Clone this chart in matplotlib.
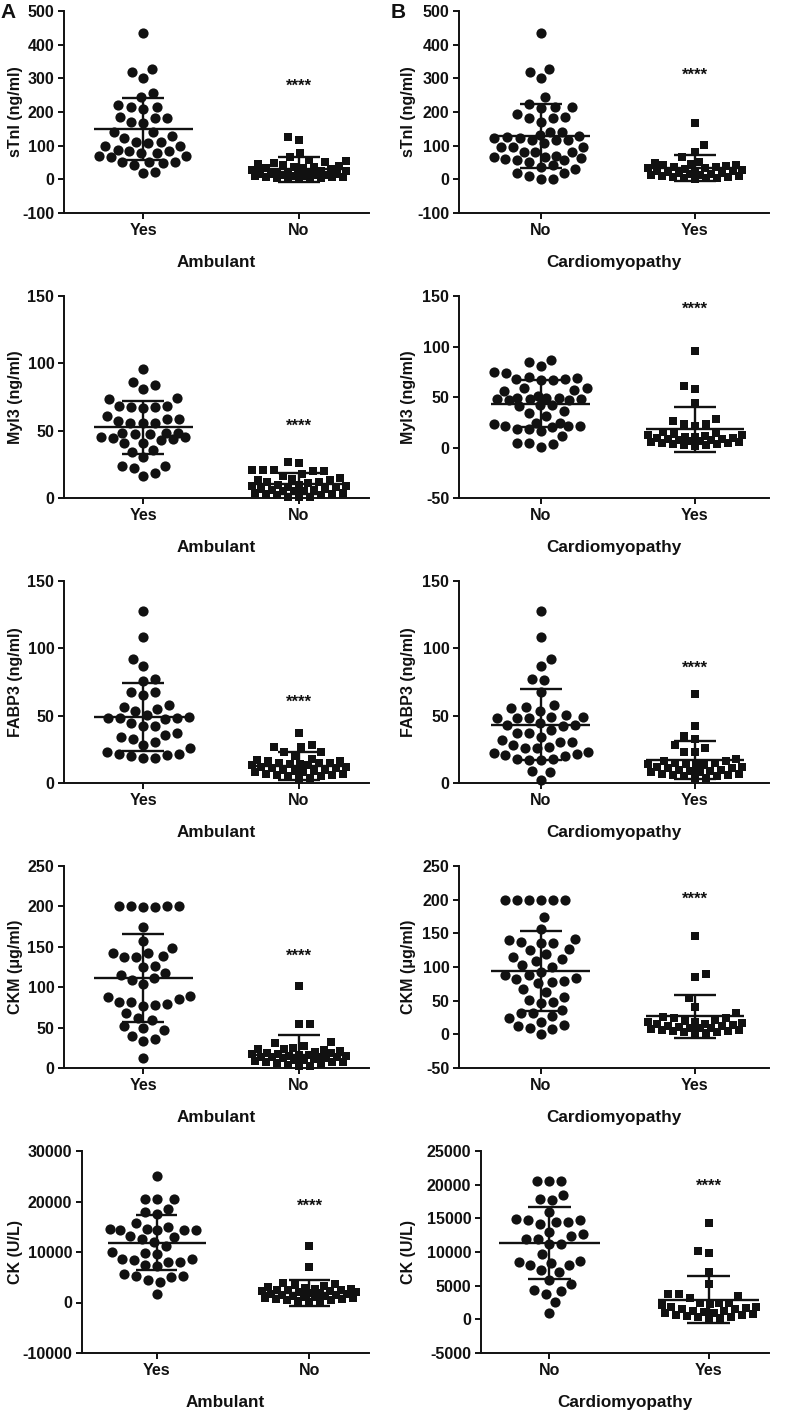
import numpy as np
import matplotlib
matplotlib.use("Agg")
import matplotlib.pyplot as plt

plt.rcParams.update({
    "font.family": ["Liberation Sans", "DejaVu Sans"],
    "font.weight": "bold",
    "axes.labelweight": "bold",
    "axes.unicode_minus": False,
})

# ---------------- data ----------------
groups_amb = ["Yes", "No"]
groups_card = ["No", "Yes"]

# sTnI (ng/ml)
stni_amb_yes = [436, 328, 319, 302, 255, 245, 216, 221, 210, 216, 186, 171, 181, 181, 168, 142, 140,
                112, 107, 99, 100, 112, 122, 129, 87, 85, 79, 69, 69, 67, 79, 85, 52, 43, 52, 50, 48, 20, 21]
stni_amb_no = [125, 117, 79, 67, 57, 55, 50, 48, 45, 42, 40, 38, 36, 35, 33, 30, 28, 26, 25, 23, 22, 20,
               18, 17, 16, 15, 14, 13, 12, 11, 10, 9, 8, 7, 6, 5, 5, 4, 3, 2]
stni_card_no = [436, 328, 319, 302, 245, 224, 214, 211, 216, 193, 181, 181, 186, 171, 142, 142, 132, 127,
                129, 117, 117, 97, 122, 122, 97, 97, 107, 117, 82, 82, 82, 70, 67, 57, 52, 59, 57, 62, 67,
                38, 43, 30, 18, 10, 0, 1, 18]
stni_card_yes = [168, 101, 82, 67, 50, 48, 45, 44, 42, 40, 38, 37, 35, 33, 30, 28, 26, 25, 24, 22, 20, 18,
                 17, 15, 14, 12, 10, 9, 8, 6, 5, 4, 3, 2]

# Myl3 (ng/ml)
myl3_amb_yes = [96, 84, 86, 81, 74, 73.5, 68.6, 67.8, 66.6, 67.8, 68.3, 59, 57, 56, 55.5, 56, 58.5, 61,
                48.6, 47.6, 45.6, 44.4, 43, 40.7, 40.7, 43.7, 45.6, 47.6, 48.6, 48.6, 33.8, 35.8, 30.8,
                24, 22, 24, 18.5, 16]
myl3_amb_no = [27, 26, 21, 21, 21, 20, 20, 18, 16, 15, 14, 13, 13, 12, 12, 11, 10, 10, 9, 9, 8, 8, 7, 7,
               6, 6, 5, 5, 5, 4, 4, 3, 3, 2, 2, 1, 1, 0.5]
myl3_card_no = [86.7, 85, 80.8, 75, 74, 68.6, 70, 68, 67, 67, 56, 58.8, 58.8, 57, 49, 46.6, 48, 48, 49, 48,
                46.6, 49, 50.6, 40.7, 42, 42, 35.8, 31.5, 34, 24.3, 23.6, 21, 20.4, 18.4, 16, 18.4, 21,
                21.7, 24.3, 11, 4.6, 0.7, 3, 4.6, 68]
myl3_card_yes = [96, 61, 58, 44, 28, 26, 23, 23, 21, 15, 14, 13, 12, 12, 11, 10, 10, 9, 9, 8, 8, 7, 7, 6,
                 6, 5, 5, 4, 4, 3, 3, 2, 2, 1]

# FABP3 (ng/ml)
fabp3_amb_yes = [127.8, 108.6, 91.8, 86.8, 77, 76, 67.8, 65.4, 67.4, 56.7, 58, 53.8, 55, 49.3, 44.4, 48, 48,
                 47.4, 48, 50.6, 42, 42, 34.5, 30.8, 37, 32.8, 35.8, 28.4, 25.9, 22.7, 21.7, 19.7, 18.5,
                 18.5, 20.5, 21.7]
fabp3_amb_no = [37, 28, 27, 27, 23, 23, 20, 18, 17, 16, 16, 15, 15, 15, 14, 14, 13, 13, 12, 12, 11, 11, 10,
                10, 9, 9, 8, 8, 7, 7, 6, 6, 5, 5, 4, 3]
fabp3_card_no = [127.8, 108.6, 91.8, 86.8, 76.5, 77.2, 67.8, 58, 56.7, 55.5, 53.8, 50.6, 49.3, 48, 48, 49.3,
                 44.4, 42, 42.7, 43, 32, 30.8, 37, 37, 39.5, 30.8, 34.5, 27, 25.9, 25.9, 28.4, 22.2, 20.2,
                 17.8, 17.3, 17.3, 17.8, 21, 21.5, 22.7, 8.6, 8.1, 2, 48]
fabp3_card_yes = [66, 42, 35, 33, 28, 26, 23, 23, 18, 16, 16, 15, 15, 14, 14, 13, 13, 12, 12, 11, 11, 10,
                  10, 9, 9, 8, 8, 7, 7, 6, 6, 5, 5, 4, 4]

# CKM (ug/ml)
ckm_amb_yes = [200, 200, 199, 199, 200, 200, 175, 157.5, 148, 142, 142, 137, 137, 138, 126.6, 124.6, 115,
               109, 111, 118, 104, 87.6, 89, 82, 85, 78, 81.4, 79.4, 77.3, 67.8, 62.5, 59.6, 46.5, 49.3,
               51.4, 36.2, 32.9, 39.9, 12.3]
ckm_amb_no = [101, 54, 54, 32, 31, 27, 25, 24, 23, 22, 21, 20, 19, 18, 17, 17, 16, 16, 15, 15, 14, 14, 13,
              13, 12, 12, 11, 10, 10, 9, 8, 8, 7, 6, 5, 4, 3, 2]
ckm_card_no = [200, 200, 199, 199, 200, 200, 174.4, 157, 141, 137, 135.5, 140, 135.5, 124.9, 126, 118.7,
               115, 109, 111.4, 103, 100.5, 93, 83, 79.8, 88, 75.8, 88, 78, 81.8, 67, 62.5, 51, 46, 47.7,
               55, 36.4, 32.4, 23.9, 19, 27.5, 32.4, 14, 10, 0.8, 7.7, 13]
ckm_card_yes = [146, 89, 85, 54, 40, 31, 26, 24, 24, 22, 20, 19, 18, 17, 16, 15, 14, 13, 12, 11, 10, 10, 9,
                8, 7, 6, 5, 5, 4, 3, 2, 1]

# CK (U/L)
ck_amb_yes = [25050, 20430, 20430, 20560, 18450, 17590, 17920, 15740, 14950, 14490, 14290, 14290, 14420,
              14420, 14550, 13100, 12970, 12640, 11120, 11980, 9800, 10000, 9540, 8680, 8480, 8020, 8680,
              8020, 7160, 7360, 5180, 5180, 5710, 5050, 4390, 4060, 1750]
ck_amb_no = [11200, 7000, 3900, 3700, 3500, 3300, 3000, 2800, 2700, 2600, 2500, 2500, 2400, 2300, 2200,
             2100, 2000, 1900, 1800, 1700, 1600, 1500, 1400, 1300, 1200, 1100, 1000, 900, 800, 700, 600,
             500, 400, 300, 200, 100]
ck_card_no = [20540, 20540, 20540, 17920, 17670, 18510, 15940, 14700, 14450, 14200, 14450, 14700, 14950,
              12720, 11980, 11980, 12330, 12970, 11140, 11240, 9650, 8560, 8020, 8020, 8370, 8610, 7280,
              7030, 5200, 5890, 4160, 3810, 4310, 2570, 990]
ck_card_yes = [14300, 10200, 9800, 7100, 5200, 3800, 3700, 3400, 3100, 2500, 2400, 2400, 2300, 2100, 1900,
               1800, 1700, 1600, 1500, 1300, 1200, 1100, 1000, 900, 800, 700, 600, 500, 400, 300, 200, 100]

# mean and SD: [group1, group2]
stni_amb_mean, stni_amb_sd = [150, 30], [92, 37]
stni_card_mean, stni_card_sd = [128, 33], [95, 39]
myl3_amb_mean, myl3_amb_sd = [52.5, 10.6], [19.5, 8]
myl3_card_mean, myl3_card_sd = [43.5, 18], [23, 22]
fabp3_amb_mean, fabp3_amb_sd = [49.3, 12.3], [25.2, 10.4]
fabp3_card_mean, fabp3_card_sd = [43.4, 17.3], [26.3, 14]
ckm_amb_mean, ckm_amb_sd = [111.5, 16.4], [54, 24.6]
ckm_card_mean, ckm_card_sd = [94, 26.5], [60, 32]
ck_amb_mean, ck_amb_sd = [11880, 1950], [5380, 2570]
ck_card_mean, ck_card_sd = [11360, 2920], [5320, 3470]

# significance marker heights
star_y_amb = [275, 53, 60, 138, 19000]
star_y_card = [310, 137, 85, 200, 19700]

ylabels = ["sTnI (ng/ml)", "Myl3 (ng/ml)", "FABP3 (ng/ml)", "CKM (\u03bcg/ml)", "CK (U/L)"]
yticks_amb = [np.arange(-100, 501, 100), np.arange(0, 151, 50), np.arange(0, 151, 50),
              np.arange(0, 251, 50), np.arange(-10000, 30001, 10000)]
yticks_card = [np.arange(-100, 501, 100), np.arange(-50, 151, 50), np.arange(0, 151, 50),
               np.arange(-50, 251, 50), np.arange(-5000, 25001, 5000)]

amb_data = [(stni_amb_yes, stni_amb_no, stni_amb_mean, stni_amb_sd),
            (myl3_amb_yes, myl3_amb_no, myl3_amb_mean, myl3_amb_sd),
            (fabp3_amb_yes, fabp3_amb_no, fabp3_amb_mean, fabp3_amb_sd),
            (ckm_amb_yes, ckm_amb_no, ckm_amb_mean, ckm_amb_sd),
            (ck_amb_yes, ck_amb_no, ck_amb_mean, ck_amb_sd)]
card_data = [(stni_card_no, stni_card_yes, stni_card_mean, stni_card_sd),
             (myl3_card_no, myl3_card_yes, myl3_card_mean, myl3_card_sd),
             (fabp3_card_no, fabp3_card_yes, fabp3_card_mean, fabp3_card_sd),
             (ckm_card_no, ckm_card_yes, ckm_card_mean, ckm_card_sd),
             (ck_card_no, ck_card_yes, ck_card_mean, ck_card_sd)]

# ---------------- layout ----------------
W, H = 785, 1411
fig = plt.figure(figsize=(W / 100, H / 100), dpi=100)
row_tops = [11, 296, 581, 866, 1151]
AX_H = 202
INK = "#111111"


def swarm(ypix, d, cap):
    ypix = np.asarray(ypix, float)
    order = np.argsort(ypix)
    xs = np.zeros(len(ypix))
    grid = np.arange(-cap, cap + 0.01, 0.5)
    px, py = [], []
    toggle = 1
    for i in order:
        y = ypix[i]
        x = 0.0
        if px:
            ax_ = np.array(px)
            ay_ = np.array(py)
            near = np.abs(ay_ - y) < d
            if near.any():
                dist = np.sqrt((grid[:, None] - ax_[near]) ** 2 + (y - ay_[near]) ** 2).min(axis=1)
                valid = dist >= d
                if valid.any():
                    g = grid[valid]
                    score = np.abs(g) + 0.01 * (toggle * g < 0)
                    x = g[np.argmin(score)]
                    toggle = -toggle
                else:
                    x = grid[np.argmax(dist)]
        xs[i] = x
        px.append(x)
        py.append(y)
    return xs


def draw_panel(ax, g1, g2, means, sds, labels, yticks, ylabel, xlabel, star_y, xlim, ylab_x):
    ax.set_xlim(*xlim)
    ax.set_ylim(yticks[0], yticks[-1])
    ax.set_yticks(yticks)
    ax.set_xticks([0, 1])
    ax.set_xticklabels(labels)
    for s in ["top", "right"]:
        ax.spines[s].set_visible(False)
    for s in ["left", "bottom"]:
        ax.spines[s].set_linewidth(1.4)
        ax.spines[s].set_color(INK)
    ax.tick_params(width=1.4, length=4.5, labelsize=11.5, colors=INK, pad=2.5)
    ax.set_ylabel(ylabel, fontsize=11.5, color=INK)
    ax.yaxis.set_label_coords(ylab_x, 0.5)
    ax.set_xlabel(xlabel, fontsize=12.3, color=INK)
    ax.xaxis.set_label_coords(0.5, -0.21)

    T = ax.transData
    pxu = T.transform([[1, 0]])[0, 0] - T.transform([[0, 0]])[0, 0]
    for pos, vals, mk, s, d in [(0, g1, "o", 54, 12.0), (1, g2, "s", 38, 11.0)]:
        vals = np.asarray(vals, float)
        ypix = T.transform(np.column_stack([np.zeros(len(vals)), vals]))[:, 1]
        off = swarm(ypix, d, 47) / pxu
        ax.scatter(pos + off, vals, marker=mk, s=s, c=INK, linewidths=0, clip_on=False, zorder=3)
    for pos in (0, 1):
        m, sd = means[pos], sds[pos]
        ax.hlines(m, pos - 0.32, pos + 0.32, color=INK, lw=1.7, zorder=4)
        ax.vlines(pos, m - sd, m + sd, color=INK, lw=1.7, zorder=4)
        ax.hlines([m - sd, m + sd], pos - 0.135, pos + 0.135, color=INK, lw=1.7, zorder=4)
    ax.text(1, star_y, "****", ha="center", va="center", fontsize=12, fontweight="bold", color=INK)


for r in range(5):
    top = row_tops[r]
    # left column (Ambulant)
    x0, x1 = (82 if r == 4 else 64), 369
    ax = fig.add_axes([x0 / W, 1 - (top + AX_H) / H, (x1 - x0) / W, AX_H / H])
    g1, g2, m, sd = amb_data[r]
    xlim = (-0.49, 1.39) if r == 4 else (-0.51, 1.45)
    draw_panel(ax, g1, g2, m, sd, groups_amb, yticks_amb[r], ylabels[r], "Ambulant",
               star_y_amb[r], xlim, (23 - x0) / (x1 - x0))
    # right column (Cardiomyopathy)
    x0, x1 = (481 if r == 4 else 459), 769
    ax = fig.add_axes([x0 / W, 1 - (top + AX_H) / H, (x1 - x0) / W, AX_H / H])
    g1, g2, m, sd = card_data[r]
    xlim = (-0.43, 1.38) if r == 4 else (-0.53, 1.48)
    draw_panel(ax, g1, g2, m, sd, groups_card, yticks_card[r], ylabels[r], "Cardiomyopathy",
               star_y_card[r], xlim, (416 - x0) / (x1 - x0))

fig.text(0 / W, 1 - 13 / H, "A", fontsize=15, fontweight="bold", va="center", ha="left", color=INK)
fig.text(391 / W, 1 - 13 / H, "B", fontsize=15, fontweight="bold", va="center", ha="left", color=INK)

fig.savefig("out.png", dpi=100)
